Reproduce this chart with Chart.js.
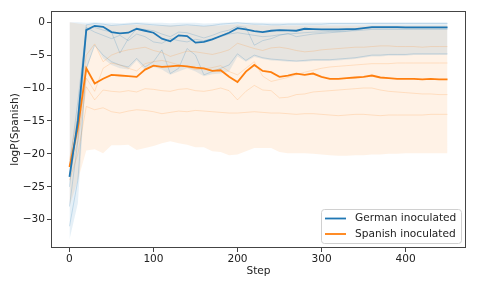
<!DOCTYPE html>
<html lang="en">

<head>
   <meta charset="UTF-8">
   <title>logP(Spanish)</title>
   <style>
      html, body { margin: 0; padding: 0; background: #fff; }
      #wrap { width: 478px; height: 287px; }
   </style>
</head>

<body>
   <div id="wrap"><canvas id="myChart" width="478" height="287"></canvas></div>

   <script src="https://cdn.jsdelivr.net/npm/chart.js"></script>

   <script>
      // training steps
      const steps = [0, 10, 20, 30, 40, 50, 60, 70, 80, 90, 100, 110, 120, 130, 140, 150, 160, 170, 180, 190, 200,
         210, 220, 230, 240, 250, 260, 270, 280, 290, 300, 310, 320, 330, 340, 350, 360, 370, 380, 390, 400, 410, 420, 430, 440, 450];

      // mean curves
      const germanMean = [-23.5, -15.0, -1.2, -0.55, -0.7, -1.5, -1.7, -1.6, -1.0, -1.3, -1.6, -2.5, -2.9, -2.0, -2.1, -3.1, -3.0, -2.6, -2.1, -1.6, -0.9,
         -1.1, -1.35, -1.5, -1.3, -1.2, -1.25, -1.3, -1.0, -1.05, -1.1, -1.1, -1.1, -1.05, -1.05, -0.9, -0.75, -0.75, -0.75, -0.75, -0.8, -0.8, -0.8, -0.8, -0.8, -0.8];
      const spanishMean = [-22.0, -16.0, -7.0, -9.3, -8.6, -8.0, -8.1, -8.2, -8.3, -7.2, -6.6, -6.8, -6.7, -6.6, -6.7, -6.9, -7.0, -7.4, -7.3, -8.3, -9.1,
         -7.5, -6.5, -7.4, -7.6, -8.3, -8.1, -7.8, -8.0, -7.8, -8.3, -8.6, -8.6, -8.5, -8.4, -8.3, -8.1, -8.4, -8.5, -8.6, -8.6, -8.6, -8.7, -8.6, -8.7, -8.7];

      // min / max envelopes
      const germanHigh = [0, 0, -0.1, 0, -0.1, -0.1, -0.15, -0.1, 0, -0.05, -0.1, -0.1, -0.15, -0.1, -0.1, -0.1, -0.2, -0.15, -0.1, -0.05, 0,
         -0.05, -0.05, -0.1, -0.1, -0.1, -0.1, -0.1, -0.05, -0.05, -0.05, -0.05, -0.05, -0.05, -0.05, -0.05, 0, 0, 0, 0, 0, 0, 0, 0, 0, 0];
      const germanLow = [-33.0, -27.5, -7.5, -3.3, -5.5, -6.5, -7.0, -7.2, -5.8, -7.3, -6.8, -7.2, -8.0, -7.5, -7.0, -7.5, -8.2, -7.9, -7.8, -7.5, -5.2,
         -6.0, -5.3, -5.6, -5.8, -5.9, -6.0, -6.0, -6.0, -5.9, -5.9, -5.9, -5.8, -5.7, -5.6, -5.4, -5.2, -5.2, -5.1, -5.1, -5.1, -5.0, -5.0, -5.0, -5.0, -5.0];
      const spanishHigh = [0, -0.2, -0.4, -0.4, -0.5, -0.5, -0.5, -0.4, -0.4, -0.4, -0.5, -0.5, -0.5, -0.5, -0.5, -0.5, -0.6, -0.5, -0.5, -0.4, -0.3,
         -0.4, -0.4, -0.5, -0.5, -0.5, -0.5, -0.5, -0.5, -0.5, -0.5, -0.5, -0.5, -0.5, -0.5, -0.5, -0.45, -0.45, -0.45, -0.45, -0.45, -0.45, -0.45, -0.45, -0.45, -0.45];
      const spanishLow = [-28.0, -24.0, -19.5, -19.3, -19.9, -18.7, -18.7, -18.6, -19.4, -19.1, -18.8, -18.4, -18.1, -18.4, -18.6, -19.0, -19.0, -19.6, -19.7, -20.2, -20.1,
         -19.6, -19.1, -19.1, -19.1, -19.7, -19.9, -19.9, -19.9, -20.0, -20.1, -20.2, -20.3, -20.3, -20.2, -20.2, -20.1, -20.1, -20.0, -20.0, -19.9, -19.9, -19.9, -19.9, -19.9, -19.9];

      // a few of the individual runs (faint lines)
      const spanishRunA = [-24, -20, -12.8, -13.3, -13.0, -13.6, -13.8, -13.5, -13.3, -13.4, -13.6, -13.9, -13.7, -13.5, -13.6, -13.4, -13.5, -13.6, -13.7, -13.8, -13.8,
         -13.7, -13.6, -13.7, -13.8, -13.8, -13.9, -14.0, -13.9, -13.9, -14.0, -14.1, -14.2, -14.1, -14.0, -14.0, -14.1, -14.2, -14.1, -14.1, -14.1, -14.1, -14.1, -14.0, -14.0, -14.0];
      const spanishRunB = [-23, -18, -9.8, -11.8, -10.3, -10.5, -10.6, -10.4, -10.6, -10.1, -10.2, -10.4, -10.5, -10.2, -10.1, -10.4, -10.5, -10.3, -10.0, -10.4, -11.8,
         -10.5, -9.6, -10.3, -10.4, -11.5, -11.4, -11.0, -10.9, -10.6, -10.5, -10.4, -10.3, -10.2, -10.1, -10.0, -10.0, -10.3, -10.5, -10.6, -10.7, -10.8, -10.9, -10.9, -11.0, -11.0];
      const spanishRunC = [-21, -14, -5.0, -3.3, -6.0, -5.0, -4.5, -4.2, -4.0, -3.8, -4.3, -4.6, -5.2, -4.8, -4.4, -4.5, -4.7, -4.9, -4.6, -4.2, -3.2,
         -3.6, -4.0, -4.3, -3.9, -3.8, -4.0, -4.3, -4.5, -4.4, -4.2, -4.1, -4.0, -3.9, -3.8, -3.8, -3.7, -3.6, -3.6, -3.7, -3.7, -3.7, -3.8, -3.7, -3.7, -3.7];
      const spanishRunD = [-22, -17, -8.5, -10.5, -7.0, -6.2, -6.5, -7.0, -7.4, -6.3, -6.0, -5.8, -6.1, -6.5, -6.8, -7.2, -7.1, -6.9, -6.6, -7.5, -8.0,
         -7.0, -6.0, -8.2, -9.0, -8.7, -8.4, -8.0, -7.6, -7.3, -7.0, -6.8, -6.7, -6.6, -6.5, -6.4, -6.3, -6.3, -6.3, -6.2, -6.2, -6.2, -6.2, -6.2, -6.2, -6.2];
      const germanRunA = [-25, -14, -0.4, -0.2, -0.3, -0.5, -0.4, -0.3, -0.2, -0.3, -0.4, -0.5, -0.6, -0.5, -0.4, -0.5, -0.6, -0.5, -0.3, -0.2, -0.1,
         -0.2, -0.3, -0.3, -0.4, -0.4, -0.3, -0.3, -0.3, -0.3, -0.3, -0.2, -0.2, -0.2, -0.2, -0.2, -0.2, -0.2, -0.2, -0.2, -0.2, -0.2, -0.2, -0.2, -0.2, -0.2];
      const germanRunB = [-28, -18, -1.0, -0.8, -1.2, -1.5, -4.7, -2.5, -1.0, -1.1, -1.3, -1.8, -2.2, -1.5, -1.6, -2.0, -2.4, -2.0, -1.5, -1.2, -0.6,
         -0.8, -3.5, -2.8, -2.5, -2.0, -1.7, -2.2, -2.0, -1.8, -1.7, -1.6, -1.5, -1.4, -1.2, -1.0, -0.9, -0.9, -0.9, -0.9, -0.9, -0.9, -0.9, -0.9, -0.9, -0.9];
      const germanRunC = [-31, -24, -7.0, -3.5, -5.0, -6.0, -6.5, -6.8, -5.5, -6.8, -6.0, -4.2, -7.8, -7.0, -4.0, -5.0, -8.0, -7.5, -7.0, -6.5, -4.8,
         -5.8, -5.0, -5.4, -5.6, -5.7, -5.8, -5.9, -5.8, -5.7, -5.7, -5.7, -5.6, -5.5, -5.4, -5.2, -5.0, -5.0, -4.9, -4.9, -4.9, -4.8, -4.8, -4.8, -4.8, -4.8];
      const germanRunD = [-22, -12, -0.8, -1.5, -2.0, -2.5, -2.0, -2.8, -1.8, -2.2, -3.0, -3.2, -2.5, -2.8, -3.0, -2.6, -2.8, -2.5, -2.2, -1.8, -1.6,
         -1.8, -2.0, -2.2, -2.1, -1.9, -1.8, -1.7, -1.6, -1.5, -1.5, -1.4, -1.4, -1.3, -1.3, -1.2, -1.1, -1.1, -1.1, -1.1, -1.1, -1.1, -1.1, -1.1, -1.1, -1.1];

      const xTicks = [0, 100, 200, 300, 400];
      const yTicks = [-30, -25, -20, -15, -10, -5, 0];
      const seriesNames = ['German inoculated', 'Spanish inoculated'];

      const BLUE = '#1f77b4';
      const ORANGE = '#ff7f0e';
      const FONT = "'DejaVu Sans', sans-serif";
      const FS = 10.6;

      const pts = (arr) => arr.map((v, i) => ({ x: steps[i], y: v }));
      const minus = (v) => (v < 0 ? '\u2212' + Math.abs(v) : String(v));

      const band = (arr, color, fill) => ({
         data: pts(arr), borderWidth: 0, borderColor: 'transparent', backgroundColor: color, fill: fill, order: 3
      });
      const faint = (arr, color) => ({
         data: pts(arr), borderWidth: 1, borderColor: color, fill: false, order: 2
      });

      // matplotlib style box around the plot + legend inside the axes
      const framePlugin = {
         id: 'frame',
         afterDraw(chart) {
            const { ctx, chartArea: a } = chart;
            ctx.save();
            ctx.strokeStyle = '#444';
            ctx.lineWidth = 1;
            ctx.strokeRect(a.left + 0.5, a.top + 0.5, a.right - a.left - 1, a.bottom - a.top - 1);

            // legend
            const bx = a.right - 145, by = a.bottom - 39, bw = 140, bh = 34;
            ctx.fillStyle = 'rgba(255,255,255,0.85)';
            ctx.strokeStyle = '#d0d0d0';
            ctx.beginPath();
            ctx.roundRect(bx + 0.5, by + 0.5, bw, bh, 3);
            ctx.fill();
            ctx.stroke();
            ctx.font = FS + 'px ' + FONT;
            ctx.textBaseline = 'middle';
            [BLUE, ORANGE].forEach((c, i) => {
               const yy = by + 9.5 + i * 15.5;
               ctx.strokeStyle = c;
               ctx.lineWidth = 1.8;
               ctx.beginPath();
               ctx.moveTo(bx + 4, yy);
               ctx.lineTo(bx + 25, yy);
               ctx.stroke();
               ctx.fillStyle = '#222';
               ctx.fillText(seriesNames[i], bx + 34, yy);
            });
            ctx.restore();
         }
      };

      const ctx = document.getElementById('myChart');

      new Chart(ctx, {
         type: 'line',
         data: {
            datasets: [
               band(germanHigh, 'rgba(31,119,180,0.11)', '+1'),
               band(germanLow, 'transparent', false),
               band(spanishHigh, 'rgba(255,127,14,0.10)', '+1'),
               band(spanishLow, 'transparent', false),
               faint(spanishRunA, 'rgba(255,127,14,0.18)'),
               faint(spanishRunB, 'rgba(255,127,14,0.18)'),
               faint(spanishRunC, 'rgba(255,127,14,0.18)'),
               faint(spanishRunD, 'rgba(255,127,14,0.18)'),
               faint(germanRunA, 'rgba(31,119,180,0.2)'),
               faint(germanRunB, 'rgba(31,119,180,0.2)'),
               faint(germanRunC, 'rgba(31,119,180,0.2)'),
               faint(germanRunD, 'rgba(31,119,180,0.2)'),
               { label: seriesNames[0], data: pts(germanMean), borderColor: BLUE, borderWidth: 1.8, fill: false, order: 0 },
               { label: seriesNames[1], data: pts(spanishMean), borderColor: ORANGE, borderWidth: 1.8, fill: false, order: 1 }
            ]
         },
         options: {
            responsive: false,
            animation: false,
            layout: { padding: { left: 0, right: 12, top: 11, bottom: 0 } },
            elements: { point: { radius: 0 }, line: { tension: 0 } },
            plugins: {
               legend: { display: false },
               tooltip: { enabled: false },
               filler: { drawTime: 'beforeDatasetsDraw' }
            },
            scales: {
               x: {
                  type: 'linear',
                  min: -22,
                  max: 472,
                  afterFit: (s) => { s.height = 39; },
                  afterBuildTicks: (s) => { s.ticks = xTicks.map(v => ({ value: v })); },
                  grid: { drawOnChartArea: false, drawTicks: true, tickLength: 4, color: '#444' },
                  border: { display: false },
                  ticks: { color: '#222', padding: 1, maxRotation: 0, font: { family: FONT, size: FS }, callback: (v) => minus(v) },
                  title: { display: true, text: 'Step', color: '#222', padding: { top: 9, bottom: 9 }, font: { family: FONT, size: FS } }
               },
               y: {
                  min: -34.3,
                  max: 1.7,
                  afterFit: (s) => { s.width = 51; },
                  afterBuildTicks: (s) => { s.ticks = yTicks.map(v => ({ value: v })); },
                  grid: { drawOnChartArea: false, drawTicks: true, tickLength: 4, color: '#444' },
                  border: { display: false },
                  ticks: { color: '#222', padding: 2, font: { family: FONT, size: FS }, callback: (v) => minus(v) },
                  title: { display: true, text: 'logP(Spanish)', color: '#222', padding: { top: 9, bottom: 9 }, font: { family: FONT, size: FS } }
               }
            }
         },
         plugins: [framePlugin]
      });
   </script>
</body>

</html>
